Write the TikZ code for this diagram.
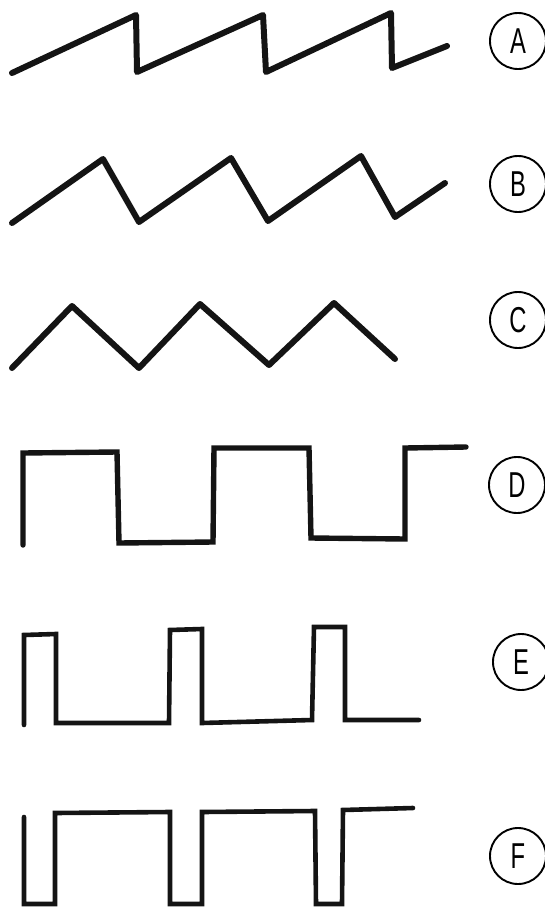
\documentclass[tikz,border=0pt]{standalone}
\usepackage{fontspec}
\usepackage{graphicx}
\setmainfont{Liberation Sans}
\tikzset{
  wave/.style={line width=6pt, line cap=round, line join=round, black!92},
  sqwave/.style={line width=5.4pt, line cap=round, line join=miter, black!92},
  thinwave/.style={line width=4.6pt, line cap=round, line join=miter, black!92},
  lab/.style={circle, draw, line width=1.9pt, minimum size=56pt, inner sep=0pt,
    font=\fontsize{36}{36}\selectfont}
}
\newcommand{\narrowlab}[1]{\scalebox{0.66}[1]{#1}}
\begin{document}
\begin{tikzpicture}[x=1pt, y=-1pt]
\useasboundingbox (0,0) rectangle (545,908);
% A: sawtooth
\draw[wave] (12,73) -- (136,15) -- (137,72) -- (263,15) -- (266,72) -- (391,13) -- (392,68) -- (447,46);
% B: asymmetric triangle
\draw[wave] (12,223) -- (103,159) -- (139,222) -- (231,158) -- (268,221) -- (361,156) -- (395,217) -- (445,183);
% C: triangle
\draw[wave] (12,368) -- (72,306) -- (139,368) -- (200,304) -- (269,365) -- (334,303) -- (395,359);
% D: square
\draw[sqwave] (23,545) -- (23,453) -- (117,452) -- (119,543) -- (213,542) -- (214,448) -- (309,448) -- (311,538) -- (405,539) -- (405,448) -- (466,447);
% E: positive pulses
\draw[thinwave] (24,725) -- (24,635) -- (56,634) -- (56,723) -- (169,723) -- (170,630) -- (202,629) -- (202,723) -- (312,720) -- (314,627) -- (345,627) -- (345,720) -- (419,720);
% F: negative pulses
\draw[thinwave] (24,817) -- (24,904) -- (55,904) -- (55,813) -- (170,812) -- (170,904) -- (202,904) -- (202,812) -- (315,811) -- (316,904) -- (342,904) -- (343,810) -- (413,808);
% labels
\node[lab] (la) at (518,41) {\narrowlab{A}};
\node[lab] (lb) at (518,184) {\narrowlab{B}};
\node[lab] (lc) at (518,320) {\narrowlab{C}};
\node[lab] (ld) at (517,485) {\narrowlab{D}};
\node[lab] (le) at (521,662) {\narrowlab{E}};
\node[lab] (lf) at (518,856) {\narrowlab{F}};
\end{tikzpicture}
\end{document}
